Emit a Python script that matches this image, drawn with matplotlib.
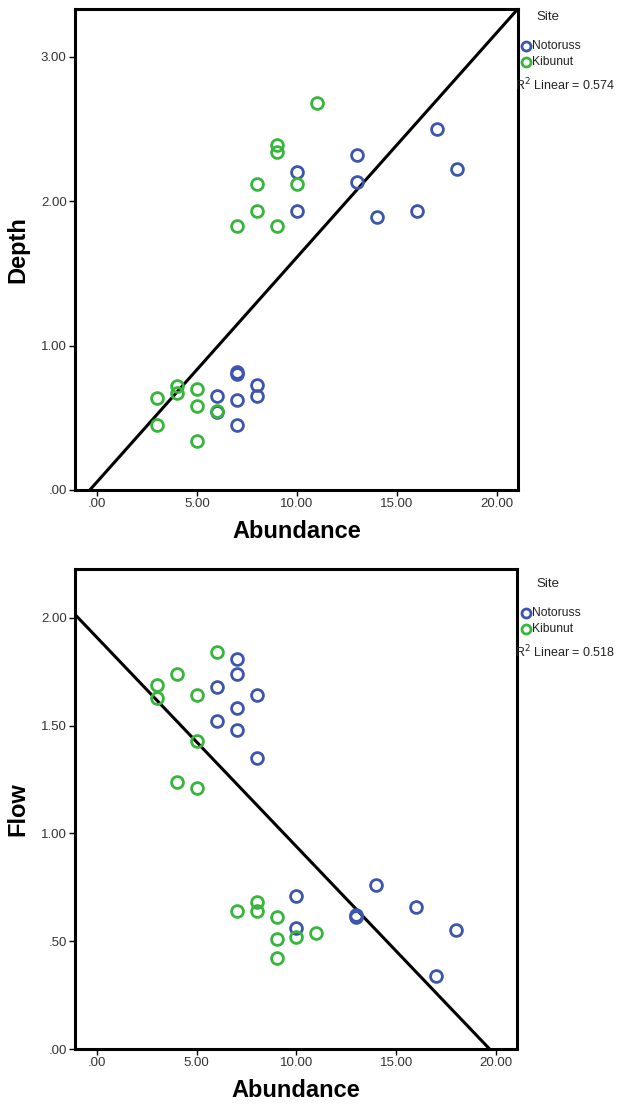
import numpy as np
import matplotlib
matplotlib.use("Agg")
import matplotlib.pyplot as plt
from matplotlib.lines import Line2D

plt.rcParams["font.family"] = ["Liberation Sans", "DejaVu Sans"]

# Depth vs Abundance
depth_notoruss_x = [17, 18, 13, 13, 10, 10, 14, 16, 7, 7, 8, 6, 7, 8, 7, 6]
depth_notoruss_y = [2.50, 2.22, 2.32, 2.13, 2.20, 1.93, 1.89, 1.93,
                    0.82, 0.80, 0.73, 0.65, 0.62, 0.65, 0.45, 0.54]
depth_kibunut_x = [11, 9, 9, 8, 10, 8, 7, 9, 4, 4, 3, 5, 5, 6, 3, 5]
depth_kibunut_y = [2.68, 2.39, 2.34, 2.12, 2.12, 1.93, 1.83, 1.83,
                   0.72, 0.67, 0.64, 0.70, 0.58, 0.55, 0.45, 0.34]

# Flow vs Abundance
flow_notoruss_x = [7, 7, 6, 8, 7, 6, 7, 8, 14, 10, 13, 13, 16, 10, 18, 17]
flow_notoruss_y = [1.81, 1.74, 1.68, 1.64, 1.58, 1.52, 1.48, 1.35,
                   0.76, 0.71, 0.61, 0.62, 0.66, 0.56, 0.55, 0.34]
flow_kibunut_x = [6, 4, 3, 5, 3, 5, 4, 5, 8, 7, 8, 9, 11, 9, 10, 9]
flow_kibunut_y = [1.84, 1.74, 1.69, 1.64, 1.63, 1.43, 1.24, 1.21,
                  0.68, 0.64, 0.64, 0.61, 0.54, 0.51, 0.52, 0.42]

sites = ["Notoruss", "Kibunut"]
site_colors = ["#3d56ad", "#38b53c"]
r2_labels = ["0.574", "0.518"]

W, H = 617, 1110
fig = plt.figure(figsize=(W / 100, H / 100), dpi=100)


def panel(rect, xs, ys, ylabel, ylim, yticks, r2, legend_top):
    ax = fig.add_axes(rect)
    for x, y, c in zip(xs, ys, site_colors):
        ax.plot(x, y, "o", ls="none", mfc="none", mec=c, mew=2.0, ms=8.5, zorder=3)

    # linear fit over all points
    allx = np.concatenate([np.asarray(v, float) for v in xs])
    ally = np.concatenate([np.asarray(v, float) for v in ys])
    slope, intercept = np.polyfit(allx, ally, 1)
    xx = np.array([-5, 30])
    ax.plot(xx, slope * xx + intercept, color="black", lw=2.2, zorder=2)

    ax.set_xlim(-1.1, 21.05)
    ax.set_ylim(*ylim)
    ax.set_xticks([0, 5, 10, 15, 20])
    ax.set_xticklabels([".00", "5.00", "10.00", "15.00", "20.00"])
    ax.set_yticks(yticks)
    ax.set_yticklabels([f"{t:.2f}".lstrip("0") if t < 1 else f"{t:.2f}" for t in yticks])
    for s in ax.spines.values():
        s.set_linewidth(2.2)
    ax.tick_params(direction="out", length=4, width=1, labelsize=9.5,
                   labelcolor="#333333", pad=2)
    ax.set_xlabel("Abundance", fontsize=17, fontweight="bold", labelpad=7)
    ax.set_ylabel(ylabel, fontsize=17, fontweight="bold", labelpad=8)

    # legend outside on the right
    fig.text(548 / W, 1 - legend_top / H, "Site", fontsize=9.5, ha="center", va="center",
             color="#222222")
    for i, (name, c) in enumerate(zip(sites, site_colors)):
        yy = 1 - (legend_top + 29 + 16 * i) / H
        fig.add_artist(Line2D([526 / W], [yy], marker="o", ls="none", mfc="none",
                              mec=c, mew=2.0, ms=6.5, transform=fig.transFigure))
        fig.text(532 / W, yy, name, fontsize=8.7, ha="left", va="center", color="#222222")
    fig.text(515 / W, 1 - (legend_top + 68) / H, "R$^2$ Linear = " + r2, fontsize=9,
             ha="left", va="center", color="#222222")
    return ax


panel([75 / W, 1 - 490 / H, 443 / W, 481 / H],
      [depth_notoruss_x, depth_kibunut_x], [depth_notoruss_y, depth_kibunut_y],
      "Depth", (0, 3.33), [0, 1, 2, 3], r2_labels[0], 17)
panel([75 / W, 1 - 1049 / H, 442 / W, 480 / H],
      [flow_notoruss_x, flow_kibunut_x], [flow_notoruss_y, flow_kibunut_y],
      "Flow", (0, 2.226), [0, 0.5, 1.0, 1.5, 2.0], r2_labels[1], 584)

fig.savefig("out.png", dpi=100)
